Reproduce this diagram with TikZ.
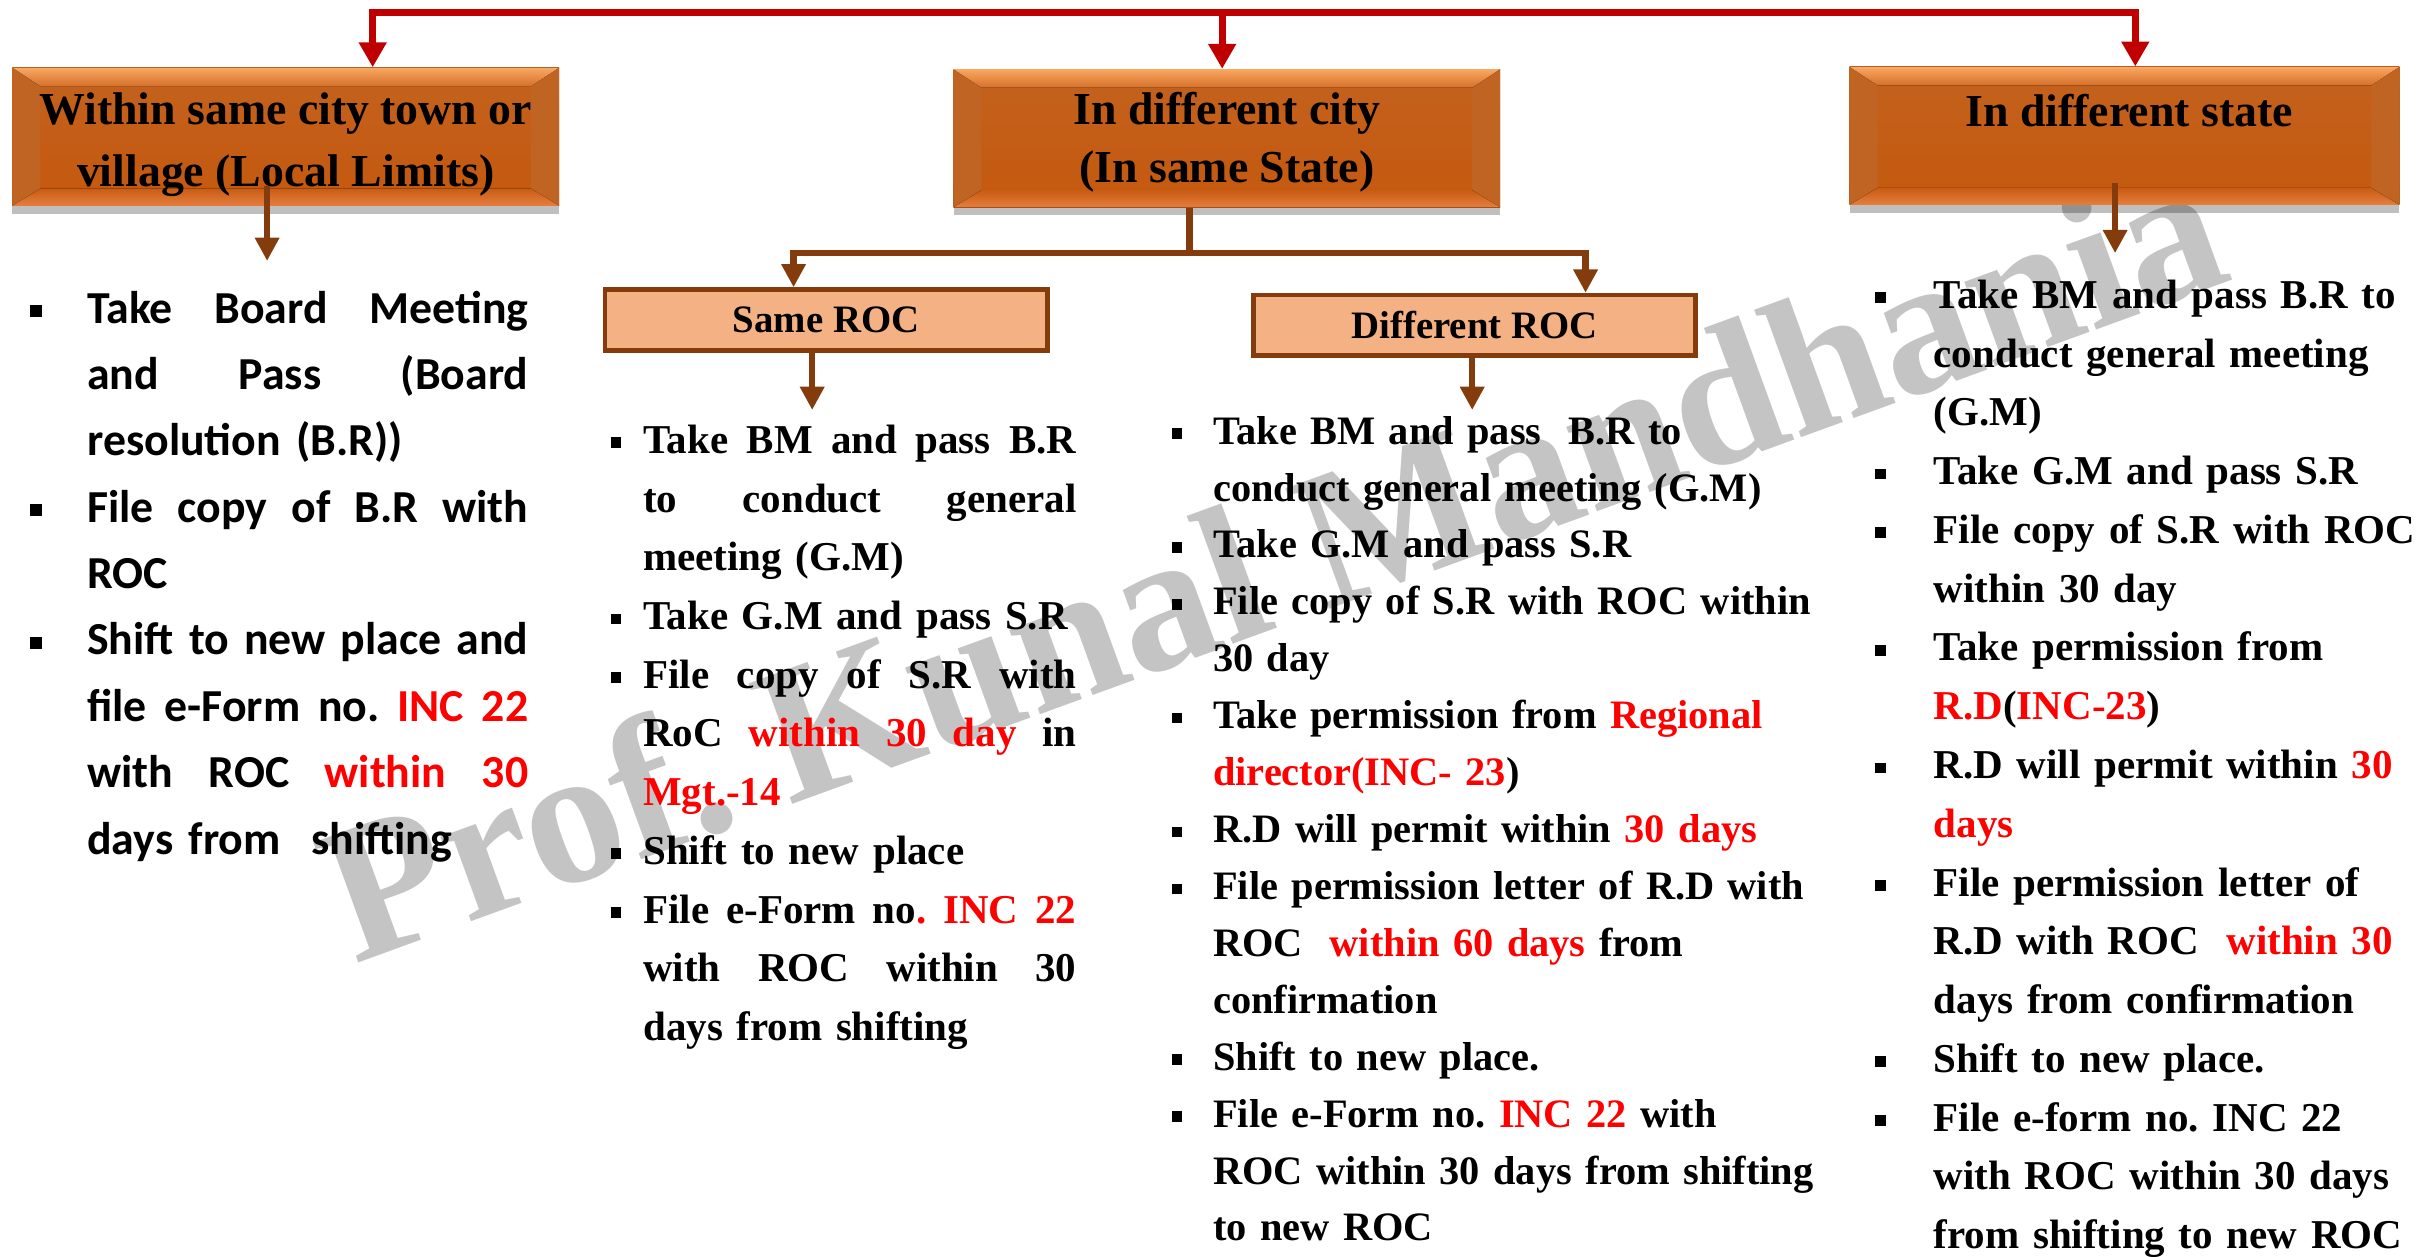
\documentclass[tikz,border=0pt]{standalone}
\usepackage{fontspec}
\setmainfont{Liberation Serif}
\newfontfamily\carlfont{Carlito}
\usetikzlibrary{arrows.meta,shadows,calc}

\definecolor{hdrA}{RGB}{195,98,30}
\definecolor{hdrB}{RGB}{197,88,14}
\definecolor{bevTop}{RGB}{250,168,98}
\definecolor{bevTopIn}{RGB}{212,112,42}
\definecolor{bevSide}{RGB}{192,100,36}
\definecolor{bevBotIn}{RGB}{200,92,20}
\definecolor{bevBot}{RGB}{230,126,62}
\definecolor{redln}{RGB}{192,0,0}
\definecolor{brn}{RGB}{132,60,12}
\definecolor{rocfill}{RGB}{244,177,131}
\definecolor{txtred}{RGB}{255,0,0}
\definecolor{wmgray}{RGB}{196,196,196}

\newcommand\rd[1]{\textcolor{txtred}{#1}}
% justified line of a given width: interword spaces share the slack
\newcommand\jl[2]{\leavevmode\hbox to #1{\spaceskip=0.24em plus 1fil\xspaceskip=\spaceskip #2}}
\newcommand\bul[1]{\leavevmode\llap{\rule[0.13em]{0.26em}{0.26em}\hspace{#1}}}

\begin{document}
\frenchspacing
\begin{tikzpicture}[x=1pt,y=-1pt,
  hdr/.style={minimum width=352pt, minimum height=89pt, inner sep=0pt,
    top color=hdrA, bottom color=hdrB,
    drop shadow={shadow xshift=0pt, shadow yshift=-5pt, opacity=0.25, fill=black},
    path picture={
      \coordinate (qNW) at (path picture bounding box.north west);
      \coordinate (qNE) at (path picture bounding box.north east);
      \coordinate (qSW) at (path picture bounding box.south west);
      \coordinate (qSE) at (path picture bounding box.south east);
      \coordinate (iNW) at ($(qNW)+(18,12)$);
      \coordinate (iNE) at ($(qNE)+(-18,12)$);
      \coordinate (iSW) at ($(qSW)+(18,-11)$);
      \coordinate (iSE) at ($(qSE)+(-18,-11)$);
      \fill[bevSide] (qNW) -- (iNW) -- (iSW) -- (qSW) -- cycle;
      \fill[bevSide] (qNE) -- (iNE) -- (iSE) -- (qSE) -- cycle;
      \fill[top color=bevTop, bottom color=bevTopIn] (qNW) -- (qNE) -- (iNE) -- (iNW) -- cycle;
      \fill[top color=bevBotIn, bottom color=bevBot] (qSW) -- (iSW) -- (iSE) -- (qSE) -- cycle;
    }},
  hdrtext/.style={inner sep=0pt, align=center, font=\fontsize{29.5}{#1}\selectfont\bfseries},
  rocbox/.style={draw=brn, line width=3pt, fill=rocfill, minimum width=285pt,
    minimum height=39pt, inner sep=0pt, font=\fontsize{25}{30}\selectfont\bfseries},
  col/.style={anchor=base west, inner sep=0pt, align=left},
  redconn/.style={draw=redln, line width=4.5pt, line join=miter},
  brnconn/.style={draw=brn, line width=4pt, line join=miter},
  rtip/.tip={Triangle[width=17pt,length=16pt]},
  btip/.tip={Triangle[width=15pt,length=15pt]}
]
% canvas
\fill[white] (0,0) rectangle (1568,809);
\useasboundingbox (0,0) rectangle (1568,809);

% watermark
\node[font=\fontsize{126}{126}\selectfont\bfseries, text=wmgray, rotate=20,
  anchor=base west, inner sep=0pt] (wm) at (228,621) {Prof. Kunal Mandhania};

% main category boxes
\node[hdr] (b1) at (184,88) {};
\node[hdr] (b2) at (790,89) {};
\node[hdr, minimum width=354pt] (b3) at (1368,87.5) {};
\node[hdrtext=40] (b1t) at (184,93) {Within same city town or\\village (Local Limits)};
\node[hdrtext=37] (b2t) at (790,91.5) {In different city\\(In same State)};
\node[hdrtext=37] (b3t) at (1371,71) {In different state};

% sub boxes
\node[rocbox] (sroc) at (532,206) {Same ROC};
\node[rocbox] (droc) at (949.5,209.5) {Different ROC};

% junction points
\coordinate (rL) at (240,8);
\coordinate (rM) at (787,8);
\coordinate (rR) at (1375,8);
\coordinate (a1s) at (172,120);
\coordinate (a1e) at (172,168);
\coordinate (a3s) at (1362,118);
\coordinate (a3e) at (1362,163);
\coordinate (jm) at (766,163);
\coordinate (jl) at (511,163);
\coordinate (jr) at (1021,163);
\coordinate (se) at (523,264);
\coordinate (de) at (948,264);

% red top connector
\draw[redconn, {rtip}-{rtip}] (rL |- b1.north) -- (rL) -- (rR) -- (rR |- b3.north);
\draw[redconn, -{rtip}] (rM) -- (rM |- b2.north);

% brown connectors
\draw[brnconn, -{btip}] (a1s) -- (a1e);
\draw[brnconn, -{btip}] (a3s) -- (a3e);
\draw[brnconn] (b2.south -| jm) -- (jm);
\draw[brnconn, {btip}-{btip}] (jl |- sroc.north) -- (jl) -- (jr) -- (jr |- droc.north);
\draw[brnconn, -{btip}] (sroc.south -| se) -- (se);
\draw[brnconn, -{btip}] (droc.south -| de) -- (de);

% step lists
\node[col, text width=300pt, font=\carlfont\fontsize{29.5}{42.75}\selectfont\bfseries] (l1) at (56,208) {%
\bul{29pt}\jl{284pt}{Take Board Meeting}\\
\jl{284pt}{and Pass (Board}\\
resolution (B.R))\\
\bul{29pt}\jl{284pt}{File copy of B.R with}\\
ROC\\
\bul{29pt}\jl{284pt}{Shift to new place and}\\
\jl{284pt}{file e-Form no. \rd{INC 22}}\\
\jl{284pt}{with ROC \rd{within 30}}\\
days from\ \ shifting};

\node[col, text width=300pt, font=\fontsize{26.4}{37.8}\selectfont\bfseries] (l2) at (414,292) {%
\bul{14pt}\jl{279pt}{Take BM and pass B.R}\\
\jl{279pt}{to conduct general}\\
meeting (G.M)\\
\bul{14pt}Take G.M and pass S.R\\
\bul{14pt}\jl{279pt}{File copy of S.R with}\\
\jl{279pt}{RoC \rd{within 30 day} in}\\
\rd{Mgt.-14}\\
\bul{14pt}Shift to new place\\
\bul{14pt}\jl{279pt}{File e-Form no\rd{. INC 22}}\\
\jl{279pt}{with ROC within 30}\\
days from shifting};

\node[col, text width=420pt, font=\fontsize{26}{36.65}\selectfont\bfseries] (l3) at (781,286) {%
\bul{20pt}Take BM and pass\ \ B.R to\\
conduct general meeting (G.M)\\
\bul{20pt}Take G.M and pass S.R\\
\bul{20pt}File copy of S.R with ROC within\\
30 day\\
\bul{20pt}Take permission from \rd{Regional}\\
\rd{director(INC- 23})\\
\bul{20pt}R.D will permit within \rd{30 days}\\
\bul{20pt}File permission letter of R.D with\\
ROC\ \ \rd{within 60 days} from\\
confirmation\\
\bul{20pt}Shift to new place.\\
\bul{20pt}File e-Form no. \rd{INC 22} with\\
ROC within 30 days from shifting\\
to new ROC};

\node[col, text width=340pt, font=\fontsize{26.4}{37.85}\selectfont\bfseries] (l4) at (1245,198.5) {%
\bul{31pt}Take BM and pass B.R to\\
conduct general meeting\\
(G.M)\\
\bul{31pt}Take G.M and pass S.R\\
\bul{31pt}File copy of S.R with ROC\\
within 30 day\\
\bul{31pt}Take permission from\\
\rd{R.D}(\rd{INC-23})\\
\bul{31pt}R.D will permit within \rd{30}\\
\rd{days}\\
\bul{31pt}File permission letter of\\
R.D with ROC\ \ \rd{within 30}\\
days from confirmation\\
\bul{31pt}Shift to new place.\\
\bul{31pt}File e-form no. INC 22\\
with ROC within 30 days\\
from shifting to new ROC};
\end{tikzpicture}
\end{document}
